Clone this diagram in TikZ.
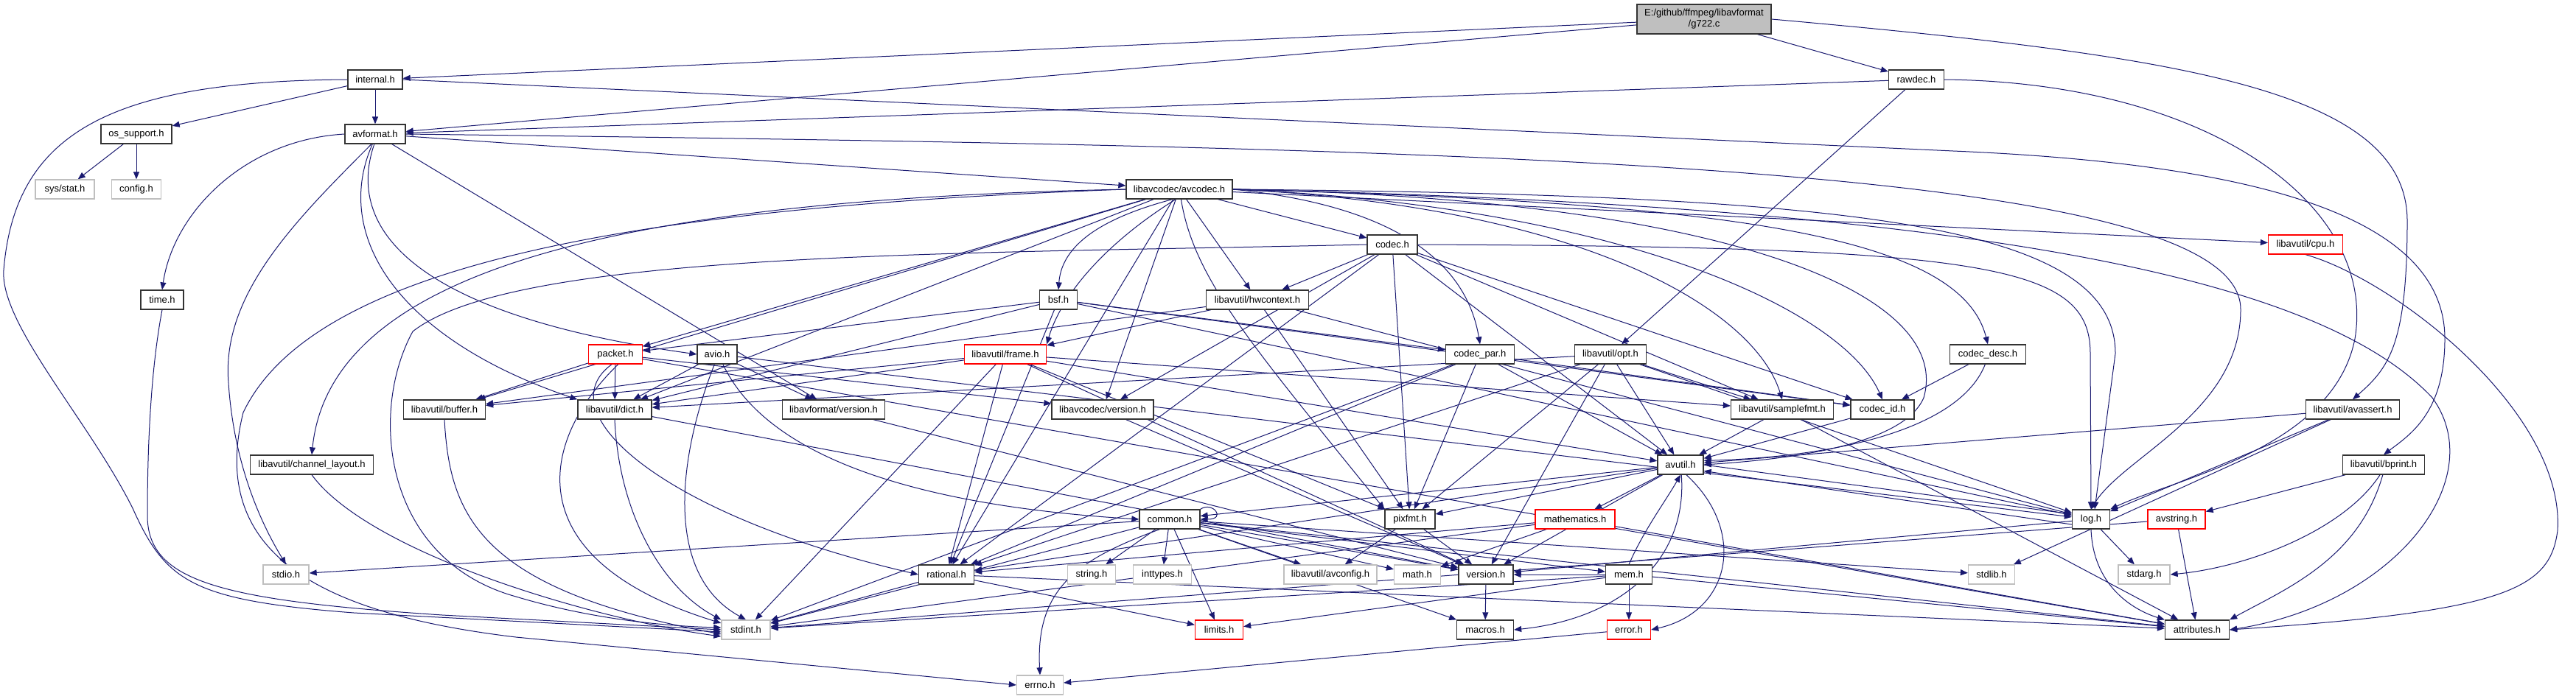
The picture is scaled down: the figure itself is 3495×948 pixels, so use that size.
\documentclass[tikz,border=0pt]{standalone}
\usepackage{fontspec}
\usetikzlibrary{arrows.meta}
\newfontfamily\nodefont{Liberation Sans}
\newcommand\nfont{\nodefont\fontsize{6.5}{7.5}\selectfont}
\definecolor{edgec}{HTML}{191970}
\definecolor{extgray}{HTML}{BFBFBF}
\pgfdeclarelayer{bg}
\pgfsetlayers{bg,main}
\tikzset{
  nb/.style={draw=black!80, line width=0.65pt, fill=white, minimum height=13pt, inner sep=0pt, font=\nfont},
  ng/.style={nb, draw=extgray},
  nr/.style={nb, draw=red},
  e/.style={draw=edgec, line width=0.5pt, -{Triangle[length=5pt,width=4pt]}},
}
\begin{document}
\begin{tikzpicture}[x=0.5pt,y=-0.5pt]
\useasboundingbox (0,0) rectangle (3495,948);
% nodes
\node[nb, fill=extgray, minimum width=91pt, minimum height=20pt, align=center] (g722) at (2312,26) {E:/github/ffmpeg/libavformat\\/g722.c};
\node[nb, minimum width=37pt] (internal) at (509,108) {internal.h};
\node[nb, minimum width=37.5pt] (rawdec) at (2600,108) {rawdec.h};
\node[nb, minimum width=48pt] (osup) at (185,182) {os\_support.h};
\node[nb, minimum width=41pt] (avformat) at (509,182) {avformat.h};
\node[ng, minimum width=40pt] (sysstat) at (88,257) {sys/stat.h};
\node[ng, minimum width=33.5pt] (config) at (185,257) {config.h};
\node[nb, minimum width=72pt] (avcodec) at (1600,257) {libavcodec/avcodec.h};
\node[nr, minimum width=50.5pt] (cpu) at (3128,332) {libavutil/cpu.h};
\node[nb, minimum width=34pt] (codec) at (1889,332) {codec.h};
\node[nb, minimum width=29pt] (timeh) at (220,407) {time.h};
\node[nb, minimum width=25.5pt] (bsf) at (1436,407) {bsf.h};
\node[nb, minimum width=69.5pt] (hwctx) at (1706,407) {libavutil/hwcontext.h};
\node[nr, minimum width=36.5pt] (packet) at (835,481) {packet.h};
\node[nb, minimum width=27pt] (avio) at (973,481) {avio.h};
\node[nr, minimum width=55.5pt] (frame) at (1364,481) {libavutil/frame.h};
\node[nb, minimum width=46.5pt] (codecpar) at (2008,481) {codec\_par.h};
\node[nb, minimum width=48.5pt] (opt) at (2185,481) {libavutil/opt.h};
\node[nb, minimum width=51.5pt] (codecdesc) at (2697,481) {codec\_desc.h};
\node[nb, minimum width=55.5pt] (buffer) at (603,556) {libavutil/buffer.h};
\node[nb, minimum width=50pt] (dict) at (834,556) {libavutil/dict.h};
\node[nb, minimum width=69.5pt] (lafversion) at (1131,556) {libavformat/version.h};
\node[nb, minimum width=69pt] (lacversion) at (1496,556) {libavcodec/version.h};
\node[nb, minimum width=69.5pt] (samplefmt) at (2418,556) {libavutil/samplefmt.h};
\node[nb, minimum width=43pt] (codecid) at (2554,556) {codec\_id.h};
\node[nb, minimum width=63.5pt] (avassert) at (3192,556) {libavutil/avassert.h};
\node[nb, minimum width=83.5pt] (chlayout) at (423,631) {libavutil/channel\_layout.h};
\node[nb, minimum width=31pt] (avutil) at (2280,631) {avutil.h};
\node[nb, minimum width=55.5pt] (bprint) at (3234,631) {libavutil/bprint.h};
\node[nb, minimum width=41pt] (common) at (1587,705) {common.h};
\node[nb, minimum width=34pt] (pixfmt) at (1913,705) {pixfmt.h};
\node[nr, minimum width=54pt] (mathematics) at (2137,705) {mathematics.h};
\node[nb, minimum width=25.5pt] (logh) at (2837,705) {log.h};
\node[nr, minimum width=39pt] (avstring) at (2953,705) {avstring.h};
\node[ng, minimum width=31pt] (stdio) at (388,780) {stdio.h};
\node[nb, minimum width=37.5pt] (rational) at (1284,780) {rational.h};
\node[ng, minimum width=32.5pt] (string) at (1481,780) {string.h};
\node[ng, minimum width=39.5pt] (inttypes) at (1577,780) {inttypes.h};
\node[ng, minimum width=63pt] (avconfig) at (1805,780) {libavutil/avconfig.h};
\node[ng, minimum width=31.5pt] (math) at (1923,780) {math.h};
\node[nb, minimum width=37pt] (version) at (2016,780) {version.h};
\node[nb, minimum width=31.5pt] (mem) at (2210,780) {mem.h};
\node[ng, minimum width=31.5pt] (stdlib) at (2702,780) {stdlib.h};
\node[ng, minimum width=35pt] (stdarg) at (2909,780) {stdarg.h};
\node[ng, minimum width=33pt] (stdint) at (1012,855) {stdint.h};
\node[nr, minimum width=32.5pt] (limits) at (1654,855) {limits.h};
\node[nb, minimum width=38.5pt] (macros) at (2015,855) {macros.h};
\node[nr, minimum width=29.5pt] (error) at (2210,855) {error.h};
\node[nb, minimum width=43.5pt] (attributes) at (2981,855) {attributes.h};
\node[ng, minimum width=31.5pt] (errno) at (1411,930) {errno.h};
\begin{pgfonlayer}{bg}
\fill[white] (0,0) rectangle (3495,948);
% g722
\draw[e] (g722) -- (internal);
\draw[e] (g722) -- (avformat);
\draw[e] (g722) -- (rawdec);
\draw[e] (g722.east) .. controls (2950,75) and (3266,120) .. (3266,300) .. controls (3266,470) and (3240,500) .. (avassert.north);
% internal
\draw[e] (internal) -- (avformat);
\draw[e] (internal) -- (osup);
\draw[e] (internal.west) .. controls (150,110) and (20,180) .. (5,367) .. controls (0,440) and (120,570) .. (180,690) .. controls (225,790) and (260,815) .. (480,832) -- (stdint.185);
\draw[e] (internal.east) -- (2650,205) .. controls (3050,222) and (3317,290) .. (3317,460) .. controls (3317,560) and (3270,590) .. (bprint.north);
% rawdec
\draw[e] (rawdec) -- (avformat);
\draw[e] (rawdec) -- (opt);
\draw[e] (rawdec.east) .. controls (3000,112) and (3225,280) .. (3195,460) .. controls (3165,610) and (2950,650) .. (logh.north east);
% os_support
\draw[e] (osup) -- (sysstat);
\draw[e] (osup) -- (config);
% avformat
\draw[e] (avformat) -- (avcodec);
\draw[e] (avformat.west) .. controls (330,190) and (235,290) .. (timeh.north);
\draw[e] (avformat.250) .. controls (400,300) and (300,400) .. (310,520) .. controls (318,640) and (360,720) .. (stdio.north);
\draw[e] (avformat.265) .. controls (465,320) and (580,430) .. (avio.west);
\draw[e] (avformat.255) .. controls (450,320) and (540,460) .. (dict.north west);
\draw[e] (avformat.east) .. controls (2000,200) and (3040,220) .. (3040,420) .. controls (3040,560) and (2880,620) .. (logh.north);
\draw[e] (avformat) -- (lafversion);
% avcodec
\draw[e] (avcodec.west) .. controls (900,280) and (430,350) .. (330,560) .. controls (280,760) and (450,835) .. (700,865) -- (errno.west);
\draw[e] (avcodec.west) .. controls (900,270) and (450,350) .. (chlayout.north);
\draw[e] (avcodec) -- (buffer);
\draw[e] (avcodec) -- (dict);
\draw[e] (avcodec) -- (packet);
\draw[e] (avcodec.250) .. controls (1500,330) and (1440,400) .. (frame.north east);
\draw[e] (avcodec.235) .. controls (1480,300) and (1440,340) .. (bsf.north);
\draw[e] (avcodec) -- (hwctx);
\draw[e] (avcodec) -- (codec);
\draw[e] (avcodec) -- (lacversion);
\draw[e] (avcodec) -- (rational);
\draw[e] (avcodec.280) .. controls (1620,380) and (1700,470) .. (pixfmt.north west);
\draw[e] (avcodec.east) .. controls (1900,280) and (1990,360) .. (codecpar.north);
\draw[e] (avcodec.east) .. controls (2150,280) and (2380,420) .. (samplefmt.north);
\draw[e] (avcodec.east) .. controls (2200,280) and (2500,420) .. (codecid.north);
\draw[e] (avcodec.east) .. controls (2350,275) and (2660,320) .. (codecdesc.north);
\draw[e] (avcodec.east) .. controls (2350,270) and (2650,400) .. (2610,540) .. controls (2580,610) and (2400,625) .. (avutil.east);
\draw[e] (avcodec.east) .. controls (2500,265) and (2870,300) .. (2870,480) -- (logh.70);
\draw[e] (avcodec) -- (cpu);
\draw[e] (avcodec.east) .. controls (2700,280) and (3150,380) .. (3300,540) .. controls (3380,650) and (3250,820) .. (attributes.east);
% codec
\draw[e] (codec.west) .. controls (1300,345) and (700,340) .. (560,450) .. controls (500,560) and (520,760) .. (700,810) .. controls (800,840) and (900,850) .. (stdint.175);
\draw[e] (codec) -- (avutil);
\draw[e] (codec) -- (hwctx);
\draw[e] (codec.east) .. controls (2700,335) and (2836,360) .. (2836,480) -- (logh.north);
\draw[e] (codec) -- (pixfmt);
\draw[e] (codec) -- (rational);
\draw[e] (codec) -- (samplefmt);
\draw[e] (codec) -- (codecid);
\draw[e] (codec) -- (lacversion);
% bsf
\draw[e] (bsf) -- (dict);
\draw[e] (bsf) -- (logh);
\draw[e] (bsf) -- (rational);
\draw[e] (bsf) -- (codecid);
\draw[e] (bsf) -- (codecpar);
\draw[e] (bsf) -- (packet);
% hwcontext
\draw[e] (hwctx) -- (buffer);
\draw[e] (hwctx) -- (frame);
\draw[e] (hwctx) -- (logh);
\draw[e] (hwctx) -- (pixfmt);
% packet
\draw[e] (packet.285) .. controls (730,600) and (700,760) .. (stdint.165);
\draw[e] (packet) -- (attributes);
\draw[e] (packet) -- (buffer);
\draw[e] (packet) -- (dict);
\draw[e] (packet.250) .. controls (740,560) and (900,700) .. (rational.west);
\draw[e] (packet) -- (lacversion);
% avio
\draw[e] (avio.255) .. controls (920,620) and (900,780) .. (stdint.north);
\draw[e] (avio.300) .. controls (1050,640) and (1300,690) .. (common.west);
\draw[e] (avio) -- (dict);
\draw[e] (avio) -- (logh);
\draw[e] (avio) -- (lafversion);
% frame
\draw[e] (frame) -- (avutil);
\draw[e] (frame) -- (buffer);
\draw[e] (frame) -- (dict);
\draw[e] (frame) -- (rational);
\draw[e] (frame) -- (samplefmt);
\draw[e] (frame) -- (pixfmt);
\draw[e] (frame) -- (version);
\draw[e] (frame) -- (stdint);
% codec_par
\draw[e] (codecpar) -- (stdint);
\draw[e] (codecpar) -- (avutil);
\draw[e] (codecpar) -- (rational);
\draw[e] (codecpar) -- (pixfmt);
\draw[e] (codecpar) -- (codecid);
% opt
\draw[e] (opt) -- (rational);
\draw[e] (opt) -- (avutil);
\draw[e] (opt) -- (dict);
\draw[e] (opt) -- (logh);
\draw[e] (opt) -- (pixfmt);
\draw[e] (opt) -- (samplefmt);
\draw[e] (opt) -- (version);
% codec_desc
\draw[e] (codecdesc.255) .. controls (2660,580) and (2500,620) .. (avutil.10);
\draw[e] (codecdesc) -- (codecid);
% versions, buffer, dict, channel layout, time
\draw[e] (lafversion) -- (version);
\draw[e] (lacversion) -- (version);
\draw[e] (buffer.south) .. controls (610,700) and (650,800) .. (stdint.190);
\draw[e] (dict.south) .. controls (840,700) and (900,800) .. (stdint.north west);
\draw[e] (dict) -- (version);
\draw[e] (chlayout.south) .. controls (500,750) and (800,840) .. (stdint.195);
\draw[e] (timeh.south) .. controls (205,500) and (200,600) .. (200,700) .. controls (200,790) and (300,815) .. (600,835) -- (stdint.180);
% samplefmt, codec_id, avassert, bprint
\draw[e] (samplefmt) -- (avutil);
\draw[e] (samplefmt) -- (attributes);
\draw[e] (codecid) -- (avutil);
\draw[e] (avassert) -- (stdlib);
\draw[e] (avassert) -- (avutil);
\draw[e] (avassert) -- (logh);
\draw[e] (bprint.250) .. controls (3180,720) and (3050,770) .. (stdarg.east);
\draw[e] (bprint.265) .. controls (3200,760) and (3100,800) .. (attributes.north east);
\draw[e] (bprint) -- (avstring);
% avutil
\draw[e] (avutil) -- (common);
\draw[e] (avutil.-60) .. controls (2370,720) and (2350,830) .. (error.east);
\draw[e] (avutil) -- (rational);
\draw[e] (avutil) -- (version);
\draw[e] (avutil.-85) .. controls (2290,760) and (2200,840) .. (macros.east);
\draw[e] (avutil) -- (mathematics);
\draw[e] (avutil.east) -- (logh.165);
\draw[e] (avutil) -- (pixfmt);
% common
\draw[e] (common.225) .. controls (1460,760) and (1405,800) .. (errno.north);
\draw[e] (common) -- (inttypes);
\draw[e] (common) -- (limits);
\draw[e] (common) -- (math);
\draw[e] (common) -- (stdint);
\draw[e] (common) -- (stdio);
\draw[e] (common) -- (stdlib);
\draw[e] (common) -- (string);
\draw[e] (common) -- (attributes);
\draw[e] (common) -- (macros);
\draw[e] (common) -- (version);
\draw[e] (common) -- (avconfig);
\draw[e] (common) -- (mem);
\draw[e] (common.north east) .. controls (1645,680) and (1665,705) .. (common.east);
% others
\draw[e] (pixfmt) -- (avconfig);
\draw[e] (pixfmt) -- (version);
\draw[e] (mathematics) -- (stdint);
\draw[e] (mathematics) -- (math);
\draw[e] (mathematics) -- (attributes);
\draw[e] (mathematics) -- (rational);
\draw[e] (logh) -- (stdarg);
\draw[e] (logh.south) .. controls (2840,800) and (2900,830) .. (attributes.north west);
\draw[e] (logh.195) -- (avutil.-15);
\draw[e] (logh) -- (version);
\draw[e] (avstring) -- (attributes);
\draw[e] (avstring) -- (stdint);
\draw[e] (rational) -- (stdint);
\draw[e] (rational) -- (limits);
\draw[e] (rational) -- (attributes);
\draw[e] (version) -- (macros);
\draw[e] (mem) -- (limits);
\draw[e] (mem) -- (stdint);
\draw[e] (mem) -- (attributes);
\draw[e] (mem) -- (error);
\draw[e] (mem.north) .. controls (2230,720) and (2260,680) .. (avutil.south);
\draw[e] (mem) -- (version);
\draw[e] (error) -- (errno);
\draw[e] (cpu.south) .. controls (3250,380) and (3480,560) .. (3470,720) .. controls (3460,800) and (3400,830) .. (attributes.east);
\end{pgfonlayer}
\end{tikzpicture}
\end{document}
